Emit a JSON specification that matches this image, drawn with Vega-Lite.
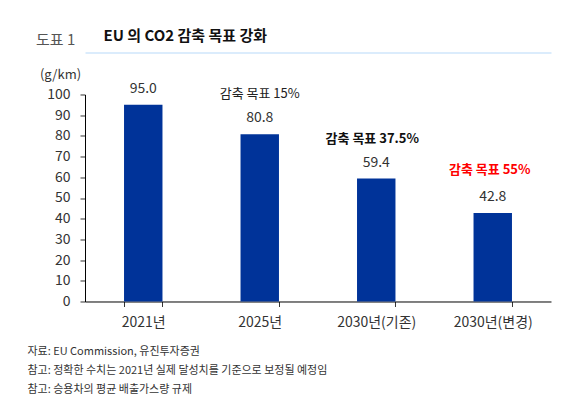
{
  "$schema": "https://vega.github.io/schema/vega-lite/v6.json",
  "autosize": "none",
  "width": 466,
  "height": 207,
  "padding": {"left": 85, "top": 94.5, "right": 34, "bottom": 108.3},
  "background": "white",
  "config": {
    "font": "Noto Sans CJK KR",
    "view": {"stroke": null}
  },
  "title": {
    "text": "도표 1",
    "anchor": "start",
    "frame": "group",
    "dx": -49,
    "dy": 24,
    "fontSize": 15,
    "fontWeight": "normal",
    "color": "#555555",
    "font": "Noto Sans CJK KR"
  },
  "data": {
    "values": [
      {"year": "2021년", "value": 95.0, "label": "95.0", "note": "", "tier": "none"},
      {"year": "2025년", "value": 80.8, "label": "80.8", "note": "감축 목표 15%", "tier": "plain"},
      {"year": "2030년(기존)", "value": 59.4, "label": "59.4", "note": "감축 목표 37.5%", "tier": "bold"},
      {"year": "2030년(변경)", "value": 42.8, "label": "42.8", "note": "감축 목표 55%", "tier": "red"}
    ]
  },
  "encoding": {
    "y": {
      "field": "value", "type": "quantitative",
      "scale": {"domain": [0, 100]},
      "axis": {
        "values": [0, 10, 20, 30, 40, 50, 60, 70, 80, 90, 100],
        "labelOverlap": false,
        "grid": false,
        "tickSize": 5,
        "tickColor": "#333333",
        "domainColor": "#000000",
        "labelFontSize": 14,
        "labelColor": "#333333",
        "labelPadding": 10,
        "title": "(g/km)",
        "titleAngle": 0,
        "titleFontSize": 13,
        "titleFontWeight": "normal",
        "titleColor": "#333333",
        "titleAlign": "center",
        "titleBaseline": "middle",
        "titleX": -25,
        "titleY": -20
      }
    }
  },
  "resolve": {"axis": {"x": "independent"}},
  "layer": [
    {
      "mark": {"type": "bar", "color": "#003399"},
      "encoding": {
        "x": {
          "field": "year", "type": "nominal", "sort": null,
          "scale": {"paddingInner": 0.67, "paddingOuter": 0.335},
          "axis": {
            "orient": "bottom",
            "labelAngle": 0,
            "labelFontSize": 14,
            "labelColor": "#333333",
            "labelPadding": 9,
            "tickBand": "extent",
            "tickSize": 5,
            "tickColor": "#333333",
            "domainColor": "#000000",
            "title": ["자료:  EU Commission, 유진투자증권", "참고: 정확한 수치는 2021년 실제 달성치를 기준으로 보정될 예정임", "참고: 승용차의 평균 배출가스량 규제"],
            "titleFontSize": 11,
            "titleFontWeight": "normal",
            "titleColor": "#333333",
            "titleAnchor": "start",
            "titleAlign": "left",
            "titleBaseline": "middle",
            "titleX": -58,
            "titleY": 50,
            "titleLineHeight": 19
          }
        }
      }
    },
    {
      "mark": {"type": "text", "dy": -16, "fontSize": 14, "color": "#333333", "baseline": "middle"},
      "encoding": {
        "x": {
          "field": "year", "type": "nominal", "sort": null,
          "axis": {
            "orient": "top",
            "labels": false,
            "ticks": false,
            "domain": true,
            "domainColor": "#cfe6fb",
            "domainWidth": 1.5,
            "offset": 42,
            "title": "EU 의 CO2 감축 목표 강화",
            "titleFontSize": 15,
            "titleFontWeight": "bold",
            "titleColor": "#111111",
            "titleAnchor": "start",
            "titleAlign": "left",
            "titleBaseline": "middle",
            "titleX": 18,
            "titleY": -17
          }
        },
        "text": {"field": "label"}
      }
    },
    {
      "transform": [{"filter": "datum.tier === 'plain'"}],
      "mark": {"type": "text", "dy": -40, "fontSize": 13, "color": "#222222", "baseline": "middle"},
      "encoding": {
        "x": {"field": "year", "type": "nominal", "sort": null, "axis": null},
        "text": {"field": "note"}
      }
    },
    {
      "transform": [{"filter": "datum.tier === 'bold'"}],
      "mark": {"type": "text", "dy": -40, "dx": -4, "fontSize": 13, "fontWeight": "bold", "color": "#111111", "baseline": "middle"},
      "encoding": {
        "x": {"field": "year", "type": "nominal", "sort": null, "axis": null},
        "text": {"field": "note"}
      }
    },
    {
      "transform": [{"filter": "datum.tier === 'red'"}],
      "mark": {"type": "text", "dy": -43, "dx": -3, "fontSize": 13, "fontWeight": "bold", "color": "#ff0000", "baseline": "middle"},
      "encoding": {
        "x": {"field": "year", "type": "nominal", "sort": null, "axis": null},
        "text": {"field": "note"}
      }
    }
  ]
}
